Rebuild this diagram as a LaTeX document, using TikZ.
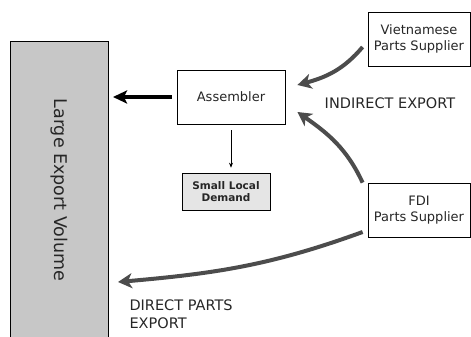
\documentclass[tikz,border=0pt]{standalone}
\usepackage{fontspec}
\setmainfont{DejaVu Sans}
\usetikzlibrary{arrows.meta}

\begin{document}
\begin{tikzpicture}[x=1pt,y=1pt,
    caixa/.style={draw, line width=0.8pt, minimum width=102pt, minimum height=54pt,
      align=center, text=black!85, font=\fontsize{13}{15.5}\selectfont},
    seta/.style={draw=black!70, line width=4pt, -{Stealth[length=14pt,width=15pt,inset=4pt]}},
    rotulo/.style={align=left, text=black!85, font=\fontsize{14.5}{18}\selectfont}]
  \useasboundingbox (0,0) rectangle (471,337);

  % Volume de exportacao (caixa grande)
  \node[draw, line width=0.8pt, fill=black!22, rotate=-90, minimum width=298pt,
    minimum height=98pt, text=black!85, font=\fontsize{17.5}{20}\selectfont]
    (volume) at (59,147) {Large Export Volume};

  % Caixas
  \node[caixa, minimum width=108pt] (montadora) at (231,240) {Assembler};
  \node[draw, line width=0.6pt, fill=black!10, minimum width=88pt, minimum height=37pt,
    align=center, text=black!85, font=\bfseries\fontsize{10.5}{12}\selectfont]
    (demanda) at (226,145.5) {Small Local\\Demand};
  \node[caixa] (vietna) at (419,298) {Vietnamese\\Parts Supplier};
  \node[caixa] (fdi) at (419,127) {FDI\\Parts Supplier};

  % Rotulos
  \node[rotulo] (indireto) at (390,234) {INDIRECT EXPORT};
  \node[rotulo, anchor=west] (direto) at (126,23) {DIRECT PARTS\\EXPORT};

  % Setas retas
  \coordinate (saida) at (113,240);
  \draw[line width=3.5pt, -{Stealth[length=14pt,width=13pt,inset=3pt]}, shorten <=5pt]
    (montadora.west) -- (saida);
  \draw[line width=0.6pt, -{Stealth[length=5pt,width=4pt]}, shorten <=6pt, shorten >=5pt]
    (montadora.south) -- (montadora.south |- demanda.north);

  % Setas curvas (exportacao indireta e direta)
  \draw[seta] ([xshift=-5pt,yshift=-8pt]vietna.west) to[out=230,in=15]
    ([xshift=12pt,yshift=12pt]montadora.east);
  \draw[seta] ([xshift=-5pt]fdi.north west) to[out=115,in=-35]
    ([xshift=12pt,yshift=-15pt]montadora.east);
  \coordinate (chegada) at (118,55);
  \draw[seta] ([xshift=-5pt,yshift=-22pt]fdi.west) to[out=200,in=5] (chegada);
\end{tikzpicture}
\end{document}
